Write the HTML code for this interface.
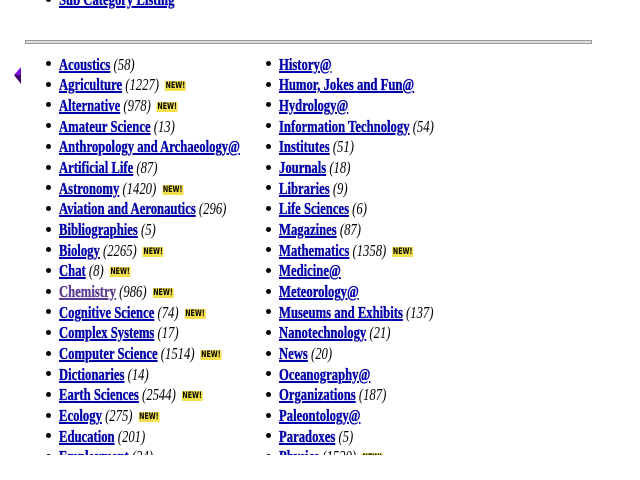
<!DOCTYPE html>
<html><head><meta charset="utf-8"><style>
html,body{margin:0;padding:0;background:#fff;width:640px;height:480px;overflow:hidden}
#clip{position:absolute;left:0;top:0;width:640px;height:455px;overflow:hidden}
.r{position:absolute;white-space:nowrap;font:bold 17px/20px "Liberation Serif",serif;transform:scaleX(0.745);transform-origin:0 0;color:#000}
.r a{color:#0000a8;text-decoration:underline;text-decoration-thickness:2px;text-underline-offset:1px;-webkit-text-stroke:0.35px #0000a8}
.r a.v{color:#5c3a8e;-webkit-text-stroke:0.35px #5c3a8e}
.r i{font-weight:normal;font-style:italic}
.n{display:inline-block;margin-left:8px;width:28px;height:10px;line-height:10px;background:#f3df4c;font:bold 8.5px/10px "DejaVu Sans",sans-serif;color:#000;text-align:center;vertical-align:2px}
.b{position:absolute;width:5px;height:5px;border-radius:50%;background:#000}
.c1{left:59px}.c2{left:279px}
.hr{position:absolute;left:25px;top:40px;width:565px;height:2px;border:1px solid #9a9a9a;background:#dedede}
</style></head><body>
<div id="clip">
<div class="b" style="left:46px;top:-3px"></div>
<div class="r c1" style="top:-9.75px"><a>Sub Category Listing</a></div>
<div class="hr"></div>
<svg style="position:absolute;left:0;top:0" width="30" height="100"><polygon points="14,75 21,67 21,75" fill="#7a10e0"/><polygon points="14,75 21,75 21,84" fill="#3c0868"/></svg>

<div class="b" style="left:46px;top:61.1px"></div><div class="r c1" style="top:54.75px"><a>Acoustics</a> <i>(58)</i></div>
<div class="b" style="left:46px;top:81.8px"></div><div class="r c1" style="top:75.42px"><a>Agriculture</a> <i>(1227)</i><span class="n">NEW!</span></div>
<div class="b" style="left:46px;top:102.4px"></div><div class="r c1" style="top:96.09px"><a>Alternative</a> <i>(978)</i><span class="n">NEW!</span></div>
<div class="b" style="left:46px;top:123.1px"></div><div class="r c1" style="top:116.76px"><a>Amateur Science</a> <i>(13)</i></div>
<div class="b" style="left:46px;top:143.8px"></div><div class="r c1" style="top:137.43px"><a>Anthropology and Archaeology@</a></div>
<div class="b" style="left:46px;top:164.5px"></div><div class="r c1" style="top:158.1px"><a>Artificial Life</a> <i>(87)</i></div>
<div class="b" style="left:46px;top:185.1px"></div><div class="r c1" style="top:178.77px"><a>Astronomy</a> <i>(1420)</i><span class="n">NEW!</span></div>
<div class="b" style="left:46px;top:205.8px"></div><div class="r c1" style="top:199.44px"><a>Aviation and Aeronautics</a> <i>(296)</i></div>
<div class="b" style="left:46px;top:226.5px"></div><div class="r c1" style="top:220.11px"><a>Bibliographies</a> <i>(5)</i></div>
<div class="b" style="left:46px;top:247.1px"></div><div class="r c1" style="top:240.78px"><a>Biology</a> <i>(2265)</i><span class="n">NEW!</span></div>
<div class="b" style="left:46px;top:267.8px"></div><div class="r c1" style="top:261.45px"><a>Chat</a> <i>(8)</i><span class="n">NEW!</span></div>
<div class="b" style="left:46px;top:288.5px"></div><div class="r c1" style="top:282.12px"><a class="v">Chemistry</a> <i>(986)</i><span class="n">NEW!</span></div>
<div class="b" style="left:46px;top:309.1px"></div><div class="r c1" style="top:302.79px"><a>Cognitive Science</a> <i>(74)</i><span class="n">NEW!</span></div>
<div class="b" style="left:46px;top:329.8px"></div><div class="r c1" style="top:323.46px"><a>Complex Systems</a> <i>(17)</i></div>
<div class="b" style="left:46px;top:350.5px"></div><div class="r c1" style="top:344.13px"><a>Computer Science</a> <i>(1514)</i><span class="n">NEW!</span></div>
<div class="b" style="left:46px;top:371.2px"></div><div class="r c1" style="top:364.8px"><a>Dictionaries</a> <i>(14)</i></div>
<div class="b" style="left:46px;top:391.8px"></div><div class="r c1" style="top:385.47px"><a>Earth Sciences</a> <i>(2544)</i><span class="n">NEW!</span></div>
<div class="b" style="left:46px;top:412.5px"></div><div class="r c1" style="top:406.14px"><a>Ecology</a> <i>(275)</i><span class="n">NEW!</span></div>
<div class="b" style="left:46px;top:433.2px"></div><div class="r c1" style="top:426.81px"><a>Education</a> <i>(201)</i></div>
<div class="b" style="left:46px;top:453.8px"></div><div class="r c1" style="top:447.48px"><a>Employment</a> <i>(24)</i></div>

<div class="b" style="left:266px;top:61.1px"></div><div class="r c2" style="top:54.75px"><a>History@</a></div>
<div class="b" style="left:266px;top:81.8px"></div><div class="r c2" style="top:75.42px"><a>Humor, Jokes and Fun@</a></div>
<div class="b" style="left:266px;top:102.4px"></div><div class="r c2" style="top:96.09px"><a>Hydrology@</a></div>
<div class="b" style="left:266px;top:123.1px"></div><div class="r c2" style="top:116.76px"><a>Information Technology</a> <i>(54)</i></div>
<div class="b" style="left:266px;top:143.8px"></div><div class="r c2" style="top:137.43px"><a>Institutes</a> <i>(51)</i></div>
<div class="b" style="left:266px;top:164.5px"></div><div class="r c2" style="top:158.1px"><a>Journals</a> <i>(18)</i></div>
<div class="b" style="left:266px;top:185.1px"></div><div class="r c2" style="top:178.77px"><a>Libraries</a> <i>(9)</i></div>
<div class="b" style="left:266px;top:205.8px"></div><div class="r c2" style="top:199.44px"><a>Life Sciences</a> <i>(6)</i></div>
<div class="b" style="left:266px;top:226.5px"></div><div class="r c2" style="top:220.11px"><a>Magazines</a> <i>(87)</i></div>
<div class="b" style="left:266px;top:247.1px"></div><div class="r c2" style="top:240.78px"><a>Mathematics</a> <i>(1358)</i><span class="n">NEW!</span></div>
<div class="b" style="left:266px;top:267.8px"></div><div class="r c2" style="top:261.45px"><a>Medicine@</a></div>
<div class="b" style="left:266px;top:288.5px"></div><div class="r c2" style="top:282.12px"><a>Meteorology@</a></div>
<div class="b" style="left:266px;top:309.1px"></div><div class="r c2" style="top:302.79px"><a>Museums and Exhibits</a> <i>(137)</i></div>
<div class="b" style="left:266px;top:329.8px"></div><div class="r c2" style="top:323.46px"><a>Nanotechnology</a> <i>(21)</i></div>
<div class="b" style="left:266px;top:350.5px"></div><div class="r c2" style="top:344.13px"><a>News</a> <i>(20)</i></div>
<div class="b" style="left:266px;top:371.2px"></div><div class="r c2" style="top:364.8px"><a>Oceanography@</a></div>
<div class="b" style="left:266px;top:391.8px"></div><div class="r c2" style="top:385.47px"><a>Organizations</a> <i>(187)</i></div>
<div class="b" style="left:266px;top:412.5px"></div><div class="r c2" style="top:406.14px"><a>Paleontology@</a></div>
<div class="b" style="left:266px;top:433.2px"></div><div class="r c2" style="top:426.81px"><a>Paradoxes</a> <i>(5)</i></div>
<div class="b" style="left:266px;top:453.8px"></div><div class="r c2" style="top:447.48px"><a>Physics</a> <i>(1520)</i><span class="n">NEW!</span></div>
</div>
</body></html>
